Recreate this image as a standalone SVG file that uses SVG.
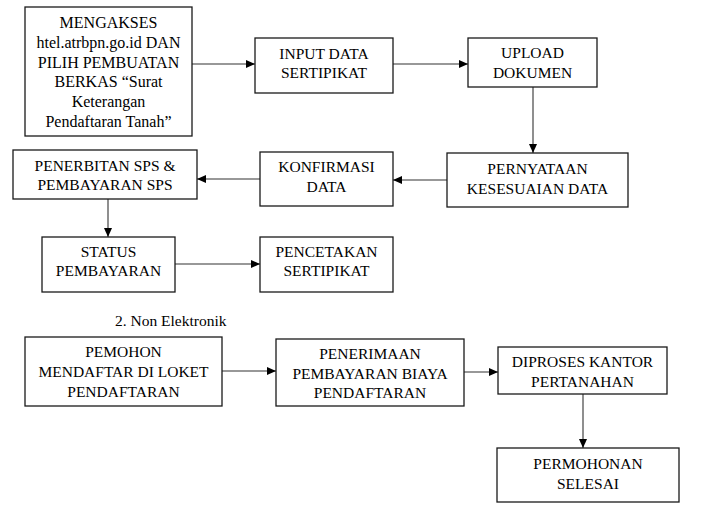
<svg xmlns="http://www.w3.org/2000/svg" width="711" height="513" viewBox="0 0 711 513">
<defs>
<marker id="ah" markerWidth="9" markerHeight="8" refX="9" refY="4" orient="auto" markerUnits="userSpaceOnUse">
<path d="M0,0 L9,4 L0,8 Z" fill="#000"/>
</marker>
<style>
.box{fill:#fff;stroke:#1a1a1a;stroke-width:1.3}
text{font-family:'Liberation Serif','Times New Roman',serif;font-size:15.5px;fill:#000;text-anchor:middle}
.c{stroke:#333;stroke-width:1.1;fill:none;marker-end:url(#ah)}
.big{font-size:16px}
</style>
</defs>
<rect width="711" height="513" fill="#fff"/>
<g id="connectors">
<line class="c" x1="192" y1="64" x2="255" y2="64"/>
<line class="c" x1="393" y1="64" x2="468" y2="64"/>
<line class="c" x1="533" y1="87" x2="533" y2="153"/>
<line class="c" x1="447" y1="180" x2="393" y2="180"/>
<line class="c" x1="260" y1="179" x2="197" y2="179"/>
<line class="c" x1="108" y1="199" x2="108" y2="237"/>
<line class="c" x1="175" y1="264" x2="260" y2="264"/>
<line class="c" x1="222" y1="371" x2="276" y2="371"/>
<line class="c" x1="464" y1="372" x2="498" y2="372"/>
<line class="c" x1="583" y1="394" x2="583" y2="448"/>
</g>
<g id="n1" font-family="Liberation Serif, serif">
<rect class="box" x="25" y="7" width="167" height="129"/>
<text class="big" x="108.5" y="28">MENGAKSES</text>
<text class="big" x="108.5" y="48">htel.atrbpn.go.id DAN</text>
<text class="big" x="108.5" y="68">PILIH PEMBUATAN</text>
<text class="big" x="108.5" y="87">BERKAS “Surat</text>
<text class="big" x="108.5" y="107">Keterangan</text>
<text class="big" x="108.5" y="127">Pendaftaran Tanah”</text>
</g>
<g id="n2">
<rect class="box" x="255" y="38" width="138" height="55"/>
<text x="324" y="59">INPUT DATA</text>
<text x="324" y="78">SERTIPIKAT</text>
</g>
<g id="n3">
<rect class="box" x="468" y="38" width="129" height="49"/>
<text x="532.5" y="58">UPLOAD</text>
<text x="532.5" y="78">DOKUMEN</text>
</g>
<g id="n4">
<rect class="box" x="447" y="153" width="181" height="54"/>
<text x="537.5" y="174">PERNYATAAN</text>
<text x="537.5" y="194">KESESUAIAN DATA</text>
</g>
<g id="n5">
<rect class="box" x="260" y="152" width="133" height="54"/>
<text x="326.5" y="172">KONFIRMASI</text>
<text x="326.5" y="192">DATA</text>
</g>
<g id="n6">
<rect class="box" x="13" y="150" width="184" height="49"/>
<text x="105" y="171">PENERBITAN SPS &amp;</text>
<text x="105" y="190">PEMBAYARAN SPS</text>
</g>
<g id="n7">
<rect class="box" x="42" y="237" width="133" height="55"/>
<text x="108.5" y="257">STATUS</text>
<text x="108.5" y="276">PEMBAYARAN</text>
</g>
<g id="n8">
<rect class="box" x="260" y="237" width="133" height="55"/>
<text x="326.5" y="257">PENCETAKAN</text>
<text x="326.5" y="276">SERTIPIKAT</text>
</g>
<text x="115" y="326" style="text-anchor:start">2.  Non Elektronik</text>
<g id="n9">
<rect class="box" x="25" y="337" width="197" height="69"/>
<text x="123.5" y="357">PEMOHON</text>
<text x="123.5" y="377">MENDAFTAR DI LOKET</text>
<text x="123.5" y="397">PENDAFTARAN</text>
</g>
<g id="n10">
<rect class="box" x="276" y="339" width="188" height="67"/>
<text x="370" y="359">PENERIMAAN</text>
<text x="370" y="379">PEMBAYARAN BIAYA</text>
<text x="370" y="398">PENDAFTARAN</text>
</g>
<g id="n11">
<rect class="box" x="498" y="347" width="169" height="47"/>
<text x="582.5" y="367">DIPROSES KANTOR</text>
<text x="582.5" y="387">PERTANAHAN</text>
</g>
<g id="n12">
<rect class="box" x="497" y="448" width="182" height="54"/>
<text x="588" y="469">PERMOHONAN</text>
<text x="588" y="489">SELESAI</text>
</g>
</svg>
